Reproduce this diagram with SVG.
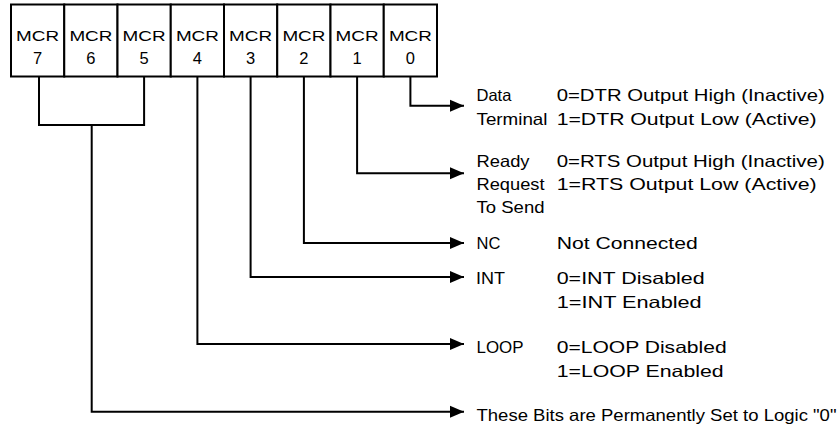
<svg xmlns="http://www.w3.org/2000/svg" width="838" height="431" viewBox="0 0 838 431">
<defs>
<style>
.cell{fill:#fff;stroke:#000;stroke-width:2}
.t{font-family:"Liberation Sans",Arial,Helvetica,sans-serif;fill:#000}
.reg{font-size:15.5px;text-anchor:middle}
.dig{font-size:16.5px;text-anchor:middle}
.lbl{font-size:16.5px}
.con{fill:none;stroke:#000;stroke-width:2}
</style>
<marker id="ah" markerUnits="userSpaceOnUse" markerWidth="16" markerHeight="14" refX="14" refY="6.5" orient="auto">
<path d="M0,0.5 L14,6.5 L0,12.5 z" fill="#000"/>
</marker>
</defs>
<rect x="0" y="0" width="838" height="431" fill="#fff"/>
<g id="register">
<g id="mcr7"><rect class="cell" x="11" y="4.5" width="53.25" height="72"/><text class="t reg" x="37.6" y="40.5" textLength="43" lengthAdjust="spacingAndGlyphs">MCR</text><text class="t dig" x="37.6" y="63.5">7</text></g>
<g id="mcr6"><rect class="cell" x="64.25" y="4.5" width="53.25" height="72"/><text class="t reg" x="90.9" y="40.5" textLength="43" lengthAdjust="spacingAndGlyphs">MCR</text><text class="t dig" x="90.9" y="63.5">6</text></g>
<g id="mcr5"><rect class="cell" x="117.5" y="4.5" width="53.25" height="72"/><text class="t reg" x="144.1" y="40.5" textLength="43" lengthAdjust="spacingAndGlyphs">MCR</text><text class="t dig" x="144.1" y="63.5">5</text></g>
<g id="mcr4"><rect class="cell" x="170.75" y="4.5" width="53.25" height="72"/><text class="t reg" x="197.4" y="40.5" textLength="43" lengthAdjust="spacingAndGlyphs">MCR</text><text class="t dig" x="197.4" y="63.5">4</text></g>
<g id="mcr3"><rect class="cell" x="224" y="4.5" width="53.25" height="72"/><text class="t reg" x="250.6" y="40.5" textLength="43" lengthAdjust="spacingAndGlyphs">MCR</text><text class="t dig" x="250.6" y="63.5">3</text></g>
<g id="mcr2"><rect class="cell" x="277.25" y="4.5" width="53.25" height="72"/><text class="t reg" x="303.9" y="40.5" textLength="43" lengthAdjust="spacingAndGlyphs">MCR</text><text class="t dig" x="303.9" y="63.5">2</text></g>
<g id="mcr1"><rect class="cell" x="330.5" y="4.5" width="53.25" height="72"/><text class="t reg" x="357.1" y="40.5" textLength="43" lengthAdjust="spacingAndGlyphs">MCR</text><text class="t dig" x="357.1" y="63.5">1</text></g>
<g id="mcr0"><rect class="cell" x="383.75" y="4.5" width="53.25" height="72"/><text class="t reg" x="410.4" y="40.5" textLength="43" lengthAdjust="spacingAndGlyphs">MCR</text><text class="t dig" x="410.4" y="63.5">0</text></g>
</g>
<g id="connectors">
<path class="con" d="M410.4,76.5 V105.7 H464" marker-end="url(#ah)"/>
<path class="con" d="M357.1,76.5 V173.3 H464" marker-end="url(#ah)"/>
<path class="con" d="M303.9,76.5 V243 H464" marker-end="url(#ah)"/>
<path class="con" d="M250.6,76.5 V277 H464" marker-end="url(#ah)"/>
<path class="con" d="M197.4,76.5 V344 H464" marker-end="url(#ah)"/>
<path class="con" d="M39,76.5 V125 H144.1 V76.5"/>
<path class="con" d="M91.7,125 V411.7 H464" marker-end="url(#ah)"/>
</g>
<g id="dtr">
<text class="t lbl" x="476.5" y="101">Data</text>
<text class="t lbl" x="476.5" y="124.5" textLength="71" lengthAdjust="spacingAndGlyphs">Terminal</text>
<text class="t lbl" x="556.7" y="101" textLength="268" lengthAdjust="spacingAndGlyphs">0=DTR Output High (Inactive)</text>
<text class="t lbl" x="556.7" y="124.5" textLength="260" lengthAdjust="spacingAndGlyphs">1=DTR Output Low (Active)</text>
</g>
<g id="rts">
<text class="t lbl" x="476.5" y="166.7" textLength="53" lengthAdjust="spacingAndGlyphs">Ready</text>
<text class="t lbl" x="476.5" y="190" textLength="68" lengthAdjust="spacingAndGlyphs">Request</text>
<text class="t lbl" x="476.5" y="213" textLength="68" lengthAdjust="spacingAndGlyphs">To Send</text>
<text class="t lbl" x="556.7" y="166.7" textLength="268" lengthAdjust="spacingAndGlyphs">0=RTS Output High (Inactive)</text>
<text class="t lbl" x="556.7" y="190" textLength="260" lengthAdjust="spacingAndGlyphs">1=RTS Output Low (Active)</text>
</g>
<g id="nc">
<text class="t lbl" x="476.5" y="249">NC</text>
<text class="t lbl" x="556.7" y="249" textLength="141" lengthAdjust="spacingAndGlyphs">Not Connected</text>
</g>
<g id="int">
<text class="t lbl" x="476" y="284" textLength="29" lengthAdjust="spacingAndGlyphs">INT</text>
<text class="t lbl" x="556.7" y="284" textLength="148" lengthAdjust="spacingAndGlyphs">0=INT Disabled</text>
<text class="t lbl" x="556.7" y="307.5" textLength="145" lengthAdjust="spacingAndGlyphs">1=INT Enabled</text>
</g>
<g id="loop">
<text class="t lbl" x="476.5" y="353" textLength="47" lengthAdjust="spacingAndGlyphs">LOOP</text>
<text class="t lbl" x="556.7" y="353" textLength="170" lengthAdjust="spacingAndGlyphs">0=LOOP Disabled</text>
<text class="t lbl" x="556.7" y="376.7" textLength="167" lengthAdjust="spacingAndGlyphs">1=LOOP Enabled</text>
</g>
<g id="reserved">
<text class="t lbl" x="476.5" y="420.5" textLength="360" lengthAdjust="spacingAndGlyphs">These Bits are Permanently Set to Logic "0"</text>
</g>
</svg>
